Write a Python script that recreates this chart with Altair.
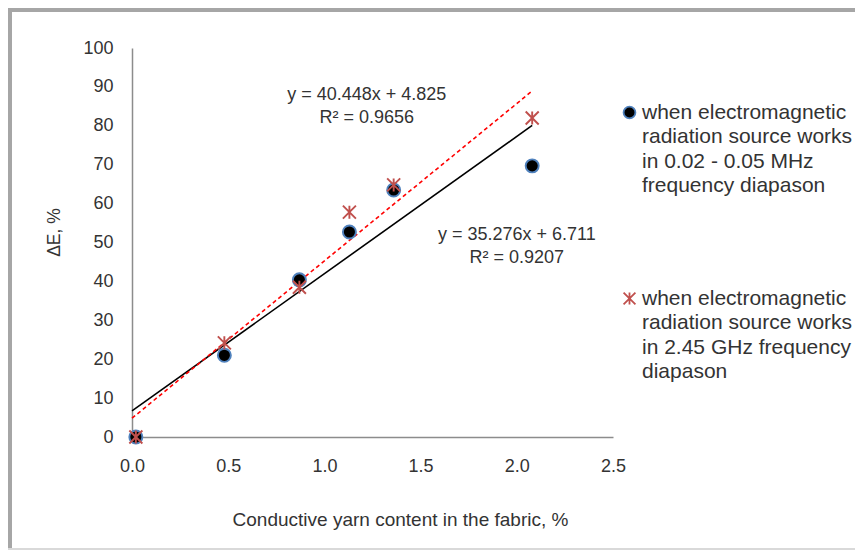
import altair as alt
import pandas as pd

# ---- data ----
x_content = [0.02, 0.48, 0.87, 1.13, 1.36, 2.08]
de_mhz = [0.0, 21.0, 40.4, 52.7, 63.5, 69.7]
de_ghz = [0.0, 24.2, 38.5, 57.8, 64.8, 82.0]

series_mhz = "when electromagnetic|radiation source works|in 0.02 - 0.05 MHz|frequency diapason"
series_ghz = "when electromagnetic|radiation source works|in 2.45 GHz frequency|diapason"
series_names = [series_mhz, series_ghz]

trend_slopes = [35.276, 40.448]
trend_intercepts = [6.711, 4.825]
trend_x = [0.0, 2.08]

eq_text = ["y = 35.276x + 6.711\nR² = 0.9207", "y = 40.448x + 4.825\nR² = 0.9656"]
eq_x = [2.0, 1.22]
eq_y = [51.9, 87.9]

x_ticks = [0.0, 0.5, 1.0, 1.5, 2.0, 2.5]
y_ticks = list(range(0, 101, 10))

# ---- tables ----
pts = pd.DataFrame({
    "x": x_content + x_content,
    "y": de_mhz + de_ghz,
    "series": [series_mhz] * len(x_content) + [series_ghz] * len(x_content),
})

trend_mhz = pd.DataFrame({"x": trend_x,
                          "y": [trend_slopes[0] * v + trend_intercepts[0] for v in trend_x]})
trend_ghz = pd.DataFrame({"x": trend_x,
                          "y": [trend_slopes[1] * v + trend_intercepts[1] for v in trend_x]})

eqs = pd.DataFrame({"x": eq_x, "y": eq_y, "t": eq_text})

FONT = "Liberation Sans"
TXT = "#333333"
AX = "#8c8c8c"
STAR = "M-1,-1L1,1M-1,1L1,-1M0,-1L0,1"

xscale = alt.Scale(domain=[0, 2.5], nice=False)
yscale = alt.Scale(domain=[0, 100], nice=False)

xaxis = alt.Axis(values=x_ticks, format=".1f", tickSize=0, labelPadding=20, grid=False,
                 labelFlush=False, labelOverlap=False,
                 domainColor=AX, domainWidth=1.5, labelFontSize=18, labelColor=TXT,
                 titleFontSize=19, titleFontWeight="normal", titleColor=TXT,
                 titleX=268, titleY=82, titleAlign="center", titleBaseline="middle")
yaxis = alt.Axis(values=y_ticks, tickSize=0, labelPadding=19, grid=False,
                 labelFlush=False, labelOverlap=False,
                 domainColor=AX, domainWidth=1.5, labelFontSize=18, labelColor=TXT,
                 titleFontSize=17.5, titleFontWeight="normal", titleColor=TXT,
                 titleX=-78, titleY=184, titleAlign="center", titleBaseline="middle",
                 titleAngle=270)

X = alt.X("x:Q", scale=xscale, axis=xaxis, title="Conductive yarn content in the fabric, %")
Y = alt.Y("y:Q", scale=yscale, axis=yaxis, title="ΔE, %")

line_mhz = alt.Chart(trend_mhz).mark_line(color="black", strokeWidth=1.6).encode(x=X, y=Y)
line_ghz = alt.Chart(trend_ghz).mark_line(color="#ff0000", strokeWidth=1.6,
                                          strokeDash=[4, 3]).encode(x=X, y=Y)

leg = alt.Legend(title=None, labelExpr="split(datum.label, '|')")
points = alt.Chart(pts).mark_point(opacity=1, strokeWidth=1.9, size=170).encode(
    x=X,
    y=Y,
    shape=alt.Shape("series:N", scale=alt.Scale(domain=series_names, range=["circle", STAR]),
                    legend=leg),
    fill=alt.Fill("series:N", scale=alt.Scale(domain=series_names, range=["black", "transparent"]),
                  legend=leg),
    stroke=alt.Stroke("series:N", scale=alt.Scale(domain=series_names, range=["#4f81bd", "#c0504d"]),
                      legend=leg),
)

eq_layer = alt.Chart(eqs).mark_text(fontSize=18, color=TXT, align="center", baseline="middle",
                                    lineBreak="\n", lineHeight=23, font=FONT).encode(
    x=X, y=Y, text="t:N")

frame_df = pd.DataFrame({"k": [0]})
top_rule = alt.Chart(frame_df).mark_rule(color="#a6a6a6", strokeWidth=4).encode(
    x=alt.value(-124), x2=alt.value(723), y=alt.value(-38))
left_rule = alt.Chart(frame_df).mark_rule(color="#a6a6a6", strokeWidth=4).encode(
    x=alt.value(-122), y=alt.value(-40), y2=alt.value(502))
bottom_rule = alt.Chart(frame_df).mark_rule(color="#d9d9d9", strokeWidth=2).encode(
    x=alt.value(-124), x2=alt.value(723), y=alt.value(501))

chart = alt.layer(line_mhz, line_ghz, points, eq_layer, top_rule, left_rule, bottom_rule).properties(
    width=481, height=389,
    autosize=alt.AutoSizeParams(type="none"),
    padding={"left": 124, "top": 40, "right": 242, "bottom": 113},
).configure(
    font=FONT, style={"guide-label": {"lineHeight": 24.5}}
).configure_view(strokeWidth=0).configure_axis(
    labelOverlap=False, labelFlush=False
).configure_legend(
    orient="none", legendX=487, legendY=54, labelFontSize=21, labelColor=TXT,
    labelLimit=400, symbolSize=140, symbolStrokeWidth=1.8, labelOffset=2,
    rowPadding=91, padding=0,
)

chart.save("out.html", embed_options={"renderer": "svg", "actions": False})
